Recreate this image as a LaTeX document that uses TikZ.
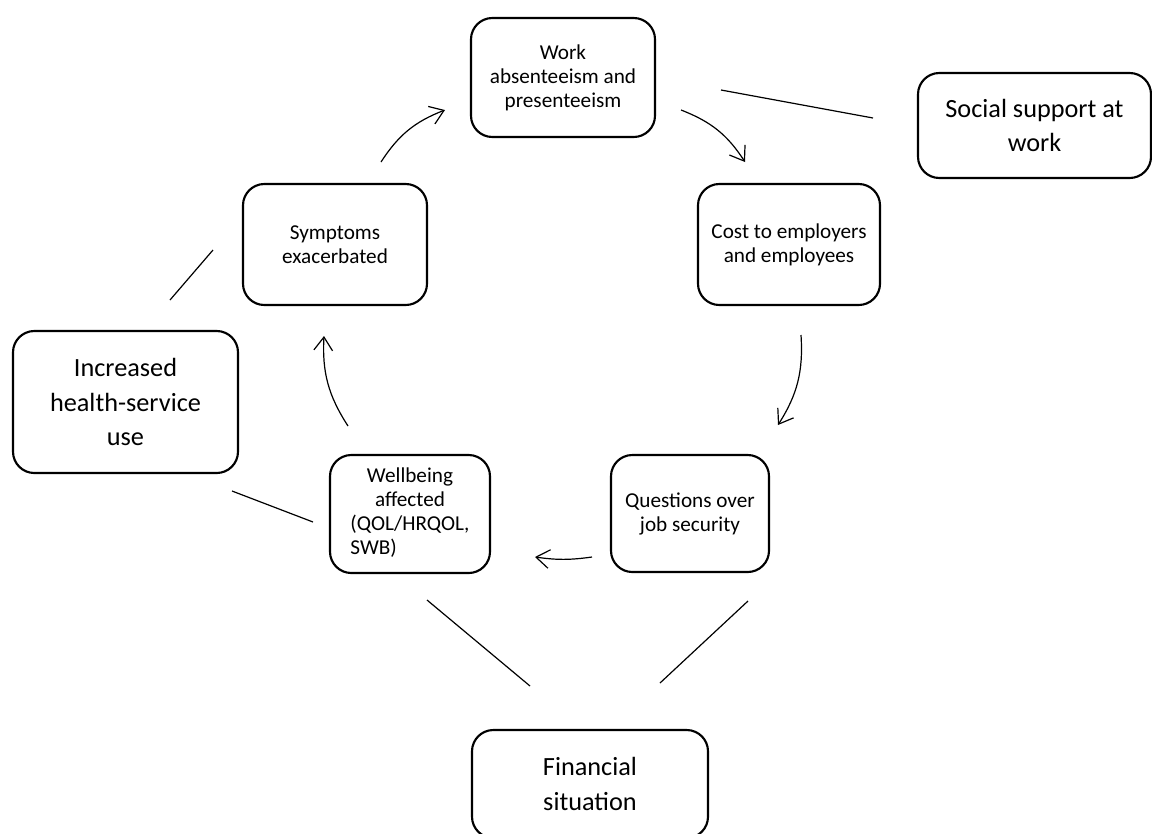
\documentclass[tikz,border=0pt]{standalone}
\usepackage{fontspec}
\setmainfont{Carlito}
\usetikzlibrary{arrows.meta}
\begin{document}
\begin{tikzpicture}[x=0.75pt,y=-0.75pt,
  box/.style={draw,line width=1.6pt,rounded corners=16pt,align=center,inner sep=0pt},
  small/.style={box,font=\fontsize{15.9}{18}\selectfont},
  big/.style={box,font=\fontsize{19.7}{26}\selectfont},
  flow/.style={line width=0.9pt,-{Straight Barb[length=10pt,width=14pt,line width=0.9pt]},bend left=18},
  link/.style={line width=0.9pt}]
\useasboundingbox (0,0) rectangle (1152,833);
\clip (0,0) rectangle (1152,833);

% boxes of the cycle
\node[small,minimum width=138pt,minimum height=89.25pt] (work) at (563,77.5)
  {Work\\absenteeism and\\presenteeism};
\node[small,minimum width=136.5pt,minimum height=90.75pt] (cost) at (789,244.5)
  {Cost to employers\\and employees};
\node[small,minimum width=118.5pt,minimum height=87.75pt] (quest) at (690,513.5)
  {Questions over\\job security};
\node[box,font=\fontsize{15.9}{18}\selectfont,align=none,minimum width=120pt,minimum height=88.5pt] (well) at (410,514)
  {\begin{tabular}{@{}l@{}}
     \multicolumn{1}{@{}c@{}}{Wellbeing}\\
     \multicolumn{1}{@{}c@{}}{affected}\\
     (QOL/HRQOL,\\
     SWB)
   \end{tabular}\hspace{14pt}};
\node[small,minimum width=138pt,minimum height=90.75pt] (symp) at (335,244.5)
  {Symptoms\\exacerbated};

% outer factors
\node[big,minimum width=174.75pt,minimum height=78.75pt] (social) at (1034.5,125.5)
  {Social support at\\work};
\node[big,minimum width=168.75pt,minimum height=106.5pt] (health) at (125.5,402)
  {Increased\\health-service\\use};
\node[big,minimum width=177pt,minimum height=81pt] (fin) at (590,784)
  {Financial\\situation};

% end points of the connectors
\coordinate (sw1) at (381,162);  \coordinate (sw2) at (445,110);
\coordinate (wc1) at (681,110);  \coordinate (wc2) at (745,162);
\coordinate (cq1) at (801,335);  \coordinate (cq2) at (778,425);
\coordinate (qw1) at (592,557);  \coordinate (qw2) at (535,557);
\coordinate (ws1) at (348,426);  \coordinate (ws2) at (324,336);

\coordinate (ls1) at (721,90);   \coordinate (ls2) at (873,118);
\coordinate (lh1) at (213,250);  \coordinate (lh2) at (170,300);
\coordinate (lw1) at (232,491);  \coordinate (lw2) at (313,522);
\coordinate (lf1) at (427,600);  \coordinate (lf2) at (530,686);
\coordinate (lq1) at (748,601);  \coordinate (lq2) at (660,683);

% the cycle
\draw[flow] (sw1) to (sw2);
\draw[flow] (wc1) to (wc2);
\draw[flow] (cq1) to (cq2);
\draw[flow,bend left=8] (qw1) to (qw2);
\draw[flow] (ws1) to (ws2);

% links to outer factors
\draw[link] (ls1) -- (ls2);
\draw[link] (lh1) -- (lh2);
\draw[link] (lw1) -- (lw2);
\draw[link] (lf1) -- (lf2);
\draw[link] (lq1) -- (lq2);
\end{tikzpicture}
\end{document}
